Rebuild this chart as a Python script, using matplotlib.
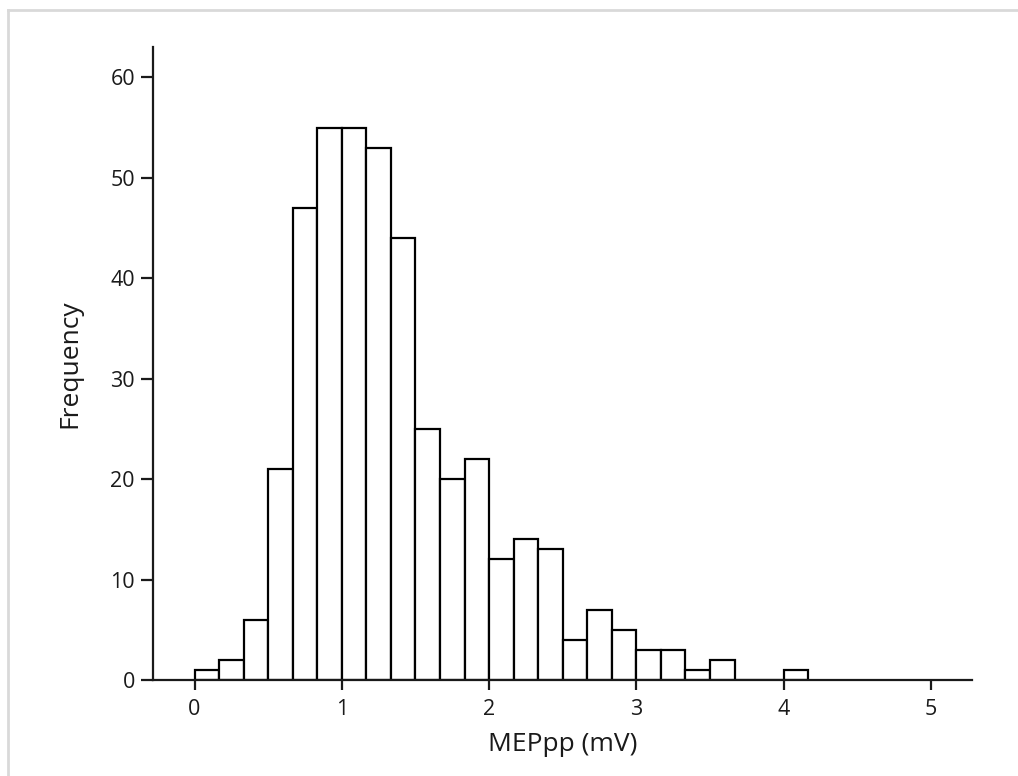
import numpy as np
import matplotlib
matplotlib.use("Agg")
import matplotlib.pyplot as plt
from matplotlib.lines import Line2D

plt.rcParams['font.family'] = ['Open Sans', 'DejaVu Sans']

# Data: histogram counts for MEPpp, bins of width 1/6 mV starting at 0
counts = [1, 2, 6, 21, 47, 55, 55, 53, 44, 25, 20, 22, 12, 14, 13, 4, 7, 5, 3, 3, 1, 2, 0, 0, 1]
bin_width = 1 / 6
bin_start = 0.0
x_ticks = [0, 1, 2, 3, 4, 5]
y_ticks = [0, 10, 20, 30, 40, 50, 60]

edges = bin_start + bin_width * np.arange(len(counts) + 1)
centers = (edges[:-1] + edges[1:]) / 2

fig = plt.figure(figsize=(10.18, 7.76), dpi=100)
ax = fig.add_axes([153 / 1018, 1 - 680 / 776, (971.7 - 153) / 1018, (680 - 46.7) / 776])

ax.hist(centers, bins=edges, weights=counts, histtype='bar',
        facecolor='white', edgecolor='black', linewidth=1.6)

ax.set_xlim(-0.282, 5.277)
ax.set_ylim(0, 63.05)
ax.set_xticks(x_ticks)
ax.set_yticks(y_ticks)

for s in ['top', 'right']:
    ax.spines[s].set_visible(False)
for s in ['left', 'bottom']:
    ax.spines[s].set_linewidth(1.6)
    ax.spines[s].set_color('#1a1a1a')

ax.tick_params(axis='y', length=9, width=1.6, labelsize=15.5, pad=4, colors='#1a1a1a')
ax.tick_params(axis='x', length=7.5, width=1.6, labelsize=15.5, pad=6, colors='#1a1a1a')

ax.set_xlabel('MEPpp (mV)', fontsize=19, labelpad=9, color='#1a1a1a')
ax.set_ylabel('Frequency', fontsize=19, labelpad=20, color='#1a1a1a')

# light gray frame around the figure
fig.add_artist(Line2D([8 / 1018, 1], [1 - 10 / 776, 1 - 10 / 776], transform=fig.transFigure,
                      color='#d9d9d9', linewidth=2))
fig.add_artist(Line2D([8 / 1018, 8 / 1018], [0, 1 - 10 / 776], transform=fig.transFigure,
                      color='#d9d9d9', linewidth=2))

fig.savefig('out.png', dpi=100)
